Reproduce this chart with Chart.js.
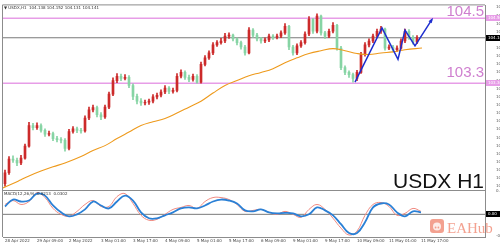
<!DOCTYPE html>
<html><head><meta charset="utf-8">
<script src="https://cdn.jsdelivr.net/npm/chart.js@4/dist/chart.umd.min.js"></script>
<style>html,body{margin:0;padding:0;background:#fff;overflow:hidden}canvas{display:block}</style>
</head><body>
<canvas id="c" width="500" height="244"></canvas>
<script>
// ---------- data ----------
const firstOpen = 101.45;
const closes = [101.65,101.90,101.88,101.83,101.92,102.14,102.52,102.48,102.52,102.43,
102.36,102.37,102.28,102.26,102.25,102.10,102.41,102.46,102.43,102.42,
102.66,102.81,102.85,102.72,102.68,102.86,103.10,103.35,103.43,103.39,
103.41,103.26,103.06,102.97,102.94,102.95,102.97,103.05,103.08,103.14,
103.21,103.15,103.17,103.43,103.50,103.41,103.37,103.43,103.32,103.65,
103.77,103.86,104.01,104.05,104.08,104.17,104.19,104.12,104.05,103.97,
103.86,104.28,104.19,104.12,104.08,104.10,104.17,104.15,104.17,104.23,
104.35,103.97,103.86,103.99,104.05,104.21,104.48,104.26,104.54,104.23,
104.17,104.26,104.37,103.95,103.59,103.50,103.46,103.39,103.50,103.83,
104.01,104.08,104.17,104.26,104.30,103.95,103.97,103.92,103.95,104.08,
104.26,104.15,104.06,104.14];
const highs = [101.70,101.95,101.96,101.92,101.97,102.18,102.58,102.56,102.57,102.55,
102.46,102.42,102.40,102.32,102.30,102.28,102.45,102.50,102.49,102.47,
102.70,102.86,102.90,102.88,102.76,102.90,103.14,103.40,103.48,103.47,
103.46,103.44,103.29,103.10,103.02,102.99,103.01,103.09,103.12,103.18,
103.26,103.24,103.21,103.48,103.55,103.53,103.45,103.47,103.46,103.69,
103.81,103.90,104.05,104.09,104.13,104.22,104.23,104.21,104.14,104.08,
104.00,104.33,104.31,104.22,104.15,104.14,104.21,104.20,104.21,104.27,
104.40,104.37,104.00,104.03,104.09,104.25,104.53,104.50,104.58,104.56,
104.26,104.30,104.42,104.39,103.98,103.62,103.53,103.49,103.54,103.87,
104.05,104.12,104.21,104.30,104.35,104.32,104.01,104.00,103.99,104.12,
104.30,104.29,104.18,104.18];
const lows = [101.40,101.62,101.84,101.78,101.80,101.90,102.12,102.44,102.45,102.40,
102.32,102.33,102.24,102.22,102.20,102.05,102.07,102.38,102.39,102.38,
102.40,102.63,102.77,102.68,102.63,102.65,102.83,103.07,103.31,103.35,
103.36,103.22,103.00,102.92,102.89,102.90,102.91,102.94,103.01,103.05,
103.11,103.11,103.12,103.14,103.40,103.37,103.33,103.34,103.30,103.30,
103.62,103.74,103.83,103.98,104.02,104.05,104.13,104.08,104.01,103.93,
103.82,103.84,104.15,104.08,104.04,104.05,104.07,104.11,104.12,104.14,
104.20,103.92,103.82,103.83,103.96,104.02,104.18,104.22,104.23,104.19,
104.13,104.14,104.23,103.91,103.55,103.46,103.41,103.32,103.35,103.48,
103.80,103.97,104.05,104.14,104.22,103.91,103.92,103.88,103.89,103.93,
104.05,104.11,104.02,104.03];
const maIdx = [-0.5,2,4,6,9,12,15,19,22,25,28,31,34,37,40,43,46,49,52,55,58,61,64,67,70,73,76,79,82,85,88,91,94,97,100,104.25];
const maVals = [101.37,101.45,101.52,101.59,101.68,101.76,101.83,101.95,102.06,102.15,
102.28,102.40,102.52,102.59,102.65,102.75,102.86,102.97,103.12,103.26,
103.35,103.44,103.50,103.57,103.68,103.77,103.85,103.90,103.94,103.90,
103.85,103.83,103.86,103.88,103.92,103.95];
const zigIdx = [87.5, 94.25, 98.25, 100, 102.5, 106.75];
const zigVals = [103.32, 104.32, 103.74, 104.28, 103.99, 104.48];
const resistance = 104.5, support = 103.3, lastPrice = 104.14;
const oscBlue = [0.08,0.15,0.13,0.14,0.21,0.19,0.09,0.02,-0.02,0.00,
0.05,0.13,0.09,0.06,0.13,0.19,0.14,0.02,-0.04,-0.04,
-0.01,0.02,0.06,0.07,0.06,0.09,0.13,0.15,0.14,0.11,
0.04,0.03,0.05,0.02,0.01,0.015,0.01,-0.02,0.00,0.07,
0.04,-0.01,-0.10,-0.19,-0.19,-0.08,0.07,0.11,0.10,0.02,
-0.02,0.03,0.02];
const oscRed = [0.10,0.14,0.10,0.13,0.22,0.17,0.06,0.00,-0.02,0.03,
0.10,0.14,0.08,0.08,0.18,0.21,0.11,-0.01,-0.06,-0.05,
0.00,0.05,0.07,0.09,0.06,0.13,0.17,0.17,0.15,0.10,
0.03,0.04,0.05,0.02,0.00,0.03,0.00,-0.03,0.05,0.10,
0.05,-0.04,-0.14,-0.21,-0.17,-0.01,0.10,0.12,0.08,-0.01,
0.01,0.06,0.03];
const oscIdx = oscBlue.map((v, k) => 2 * k);
const priceTicks = [104.70,104.55,104.40,104.25,104.10,103.95,103.80,103.65,103.50,103.35,103.20,103.05,102.90,102.75,102.60,102.45,102.30,102.15,102.00,101.85,101.70,101.55,101.40];
const oscTicks = [0.24, 0, -0.22];
const dateTicks = [0,8,16,24,32,40,48,56,64,72,80,88,96,104];
const dateLabels = ["28 Apr 2022","29 Apr 09:00","2 May 2022","3 May 01:00","3 May 17:00","4 May 09:00","5 May 01:00","5 May 17:00","6 May 09:00","9 May 01:00","9 May 17:00","10 May 09:00","11 May 01:00","11 May 17:00"];
const titleText = "USDX,H1  104.138 104.152 104.131 104.141";
const oscText = "MACD(12,26,9)  0.0213  0.0302";

// ---------- build ----------
const opens = closes.map((c, i) => i === 0 ? firstOpen : closes[i - 1]);
const upCol = '#cc2a2a', dnCol = '#86d4a4';
const candleCols = closes.map((c, i) => c >= opens[i] ? upCol : dnCol);
const X_MIN = -0.5, X_MAX = 120;
const pinkLine = '#e79de7', pinkText = '#cf7fcf';
const F = '"Liberation Sans", Arial, sans-serif';

const flat = (v) => [{x: X_MIN, y: v}, {x: X_MAX, y: v}];

const decor = {
  id: 'decor',
  afterDraw(chart) {
    const {ctx, chartArea: ca, scales} = chart;
    const y = scales.y, y2 = scales.y2, x = scales.x;
    ctx.save();
    // frame
    ctx.strokeStyle = '#8c8c8c'; ctx.lineWidth = 1;
    ctx.beginPath();
    ctx.moveTo(ca.left - 0.5, ca.bottom); ctx.lineTo(ca.left - 0.5, ca.top - 0.5); ctx.lineTo(ca.right, ca.top - 0.5);
    const sep = Math.round(y.bottom) + 0.5;
    ctx.moveTo(ca.left, sep); ctx.lineTo(ca.right, sep);
    ctx.stroke();
    // big texts
    ctx.textAlign = 'right'; ctx.textBaseline = 'alphabetic';
    ctx.fillStyle = pinkText; ctx.font = '15px ' + F;
    ctx.fillText('104.5', ca.right - 1, y.getPixelForValue(resistance) - 2);
    ctx.fillText('103.3', ca.right - 1, y.getPixelForValue(support) - 6);
    ctx.fillStyle = '#111'; ctx.font = '21px ' + F;
    ctx.fillText('USDX H1', ca.right - 1, y.bottom - 2);
    // small captions
    ctx.textAlign = 'left'; ctx.textBaseline = 'top';
    ctx.fillStyle = '#333'; ctx.font = '4px "DejaVu Sans"';
    ctx.fillText('▼ ' + titleText, ca.left + 1, ca.top + 1);
    ctx.fillText(oscText, ca.left + 1, y2.top + 2);
    // date labels along the bottom
    ctx.fillStyle = '#444'; ctx.font = '4px "DejaVu Sans"'; ctx.textBaseline = 'top';
    dateTicks.forEach((v, k) => {
      const px = x.getPixelForValue(v);
      ctx.fillText(dateLabels[k], px, ca.bottom + 2);
    });
    // axis tags
    function tag(scale, v, bg, fg, txt) {
      const py = Math.round(scale.getPixelForValue(v));
      ctx.fillStyle = bg; ctx.fillRect(ca.right + 1, py - 3, 15, 6);
      ctx.fillStyle = fg; ctx.font = '4px "DejaVu Sans"'; ctx.textBaseline = 'middle'; ctx.textAlign = 'left';
      ctx.fillText(txt, ca.right + 3, py);
    }
    tag(y, resistance, pinkLine, '#fff', resistance.toFixed(3));
    tag(y, support, pinkLine, '#fff', support.toFixed(3));
    tag(y, lastPrice, '#000', '#fff', lastPrice.toFixed(3));
    tag(y2, 0, '#000', '#fff', '0.00');
    // arrow head at the end of the projection
    const n = zigIdx.length;
    const ax = x.getPixelForValue(zigIdx[n - 1]), ay = y.getPixelForValue(zigVals[n - 1]);
    const bx = x.getPixelForValue(zigIdx[n - 2]), by = y.getPixelForValue(zigVals[n - 2]);
    const ang = Math.atan2(ay - by, ax - bx);
    ctx.fillStyle = '#1f2fcf';
    ctx.beginPath();
    ctx.moveTo(ax + 2 * Math.cos(ang), ay + 2 * Math.sin(ang));
    ctx.lineTo(ax - 4 * Math.cos(ang - 0.5), ay - 4 * Math.sin(ang - 0.5));
    ctx.lineTo(ax - 4 * Math.cos(ang + 0.5), ay - 4 * Math.sin(ang + 0.5));
    ctx.closePath(); ctx.fill();
    // watermark
    ctx.globalAlpha = 0.8;
    ctx.fillStyle = '#f08a74';
    ctx.beginPath();
    if (ctx.roundRect) ctx.roundRect(430, 219, 14, 14, 3); else ctx.rect(430, 219, 14, 14);
    ctx.fill();
    ctx.fillStyle = '#fff';
    ctx.beginPath(); ctx.arc(437, 226.5, 4, 0, Math.PI * 2); ctx.fill();
    ctx.fillStyle = '#f08a74';
    ctx.beginPath(); ctx.arc(435.6, 227.5, 0.9, 0, Math.PI * 2); ctx.arc(438.4, 227.5, 0.9, 0, Math.PI * 2); ctx.fill();
    ctx.font = '15px "Liberation Serif", serif'; ctx.textAlign = 'left'; ctx.textBaseline = 'alphabetic';
    ctx.fillText('EAHub', 447, 233);
    ctx.restore();
  }
};

new Chart(document.getElementById('c'), {
  type: 'line',
  data: {
    datasets: [
      {type: 'line', data: flat(resistance), borderColor: pinkLine, borderWidth: 1.5, pointRadius: 0, yAxisID: 'y', order: 20},
      {type: 'line', data: flat(support), borderColor: pinkLine, borderWidth: 1.5, pointRadius: 0, yAxisID: 'y', order: 20},
      {type: 'line', data: flat(lastPrice), borderColor: '#7a7a7a', borderWidth: 1, pointRadius: 0, yAxisID: 'y', order: 20},
      {type: 'bar', data: closes.map((c, i) => ({x: i, y: [lows[i], highs[i]]})), backgroundColor: candleCols,
        barThickness: 1, grouped: false, yAxisID: 'y', order: 9},
      {type: 'bar', data: closes.map((c, i) => ({x: i, y: [opens[i], c]})), backgroundColor: candleCols,
        barThickness: 2, grouped: false, yAxisID: 'y', order: 8},
      {type: 'line', data: maIdx.map((v, i) => ({x: v, y: maVals[i]})), borderColor: '#ee9a1c', borderWidth: 1.1,
        pointRadius: 0, tension: 0.4, yAxisID: 'y', order: 6},
      {type: 'line', data: zigIdx.map((v, i) => ({x: v, y: zigVals[i]})), borderColor: '#1f2fcf', borderWidth: 1.5,
        pointRadius: 0, tension: 0, yAxisID: 'y', order: 1},
      {type: 'line', data: [{x: X_MIN, y: 0}, {x: X_MAX, y: 0}], borderColor: '#7a7a7a', borderWidth: 1, pointRadius: 0, yAxisID: 'y2', order: 20},
      {type: 'line', data: oscIdx.map((v, i) => ({x: v, y: oscRed[i]})), borderColor: '#f08a80', borderWidth: 1,
        pointRadius: 0, tension: 0.4, yAxisID: 'y2', order: 3},
      {type: 'line', data: oscIdx.map((v, i) => ({x: v, y: oscBlue[i]})), borderColor: '#2a80d6', borderWidth: 1.8,
        pointRadius: 0, tension: 0.4, yAxisID: 'y2', order: 2}
    ]
  },
  options: {
    responsive: false, animation: false, devicePixelRatio: 1, events: [],
    layout: {padding: {top: 2, left: 3, right: 0, bottom: 0}},
    plugins: {legend: {display: false}, tooltip: {enabled: false}},
    scales: {
      x: {
        type: 'linear', min: X_MIN, max: X_MAX, offset: false,
        grid: {display: false}, border: {display: true, color: '#8c8c8c'},
        afterBuildTicks: (s) => { s.ticks = dateTicks.map(v => ({value: v})); },
        afterFit: (s) => { s.height = 7; },
        ticks: {display: false}
      },
      y: {
        type: 'linear', position: 'right', stack: 'panels', stackWeight: 187,
        min: 101.337, max: 104.737,
        grid: {display: false}, border: {display: true, color: '#8c8c8c'},
        afterBuildTicks: (s) => { s.ticks = priceTicks.map(v => ({value: v})); },
        afterFit: (s) => { s.width = 15; },
        ticks: {autoSkip: false, padding: 3, color: '#555', font: {size: 4, family: 'DejaVu Sans'},
          callback: (v) => v.toFixed(3)}
      },
      y2: {
        type: 'linear', position: 'right', stack: 'panels', stackWeight: 48,
        min: -0.23, max: 0.25,
        grid: {display: false}, border: {display: true, color: '#8c8c8c'},
        afterBuildTicks: (s) => { s.ticks = oscTicks.map(v => ({value: v})); },
        afterFit: (s) => { s.width = 15; },
        ticks: {autoSkip: false, padding: 3, color: '#555', font: {size: 4, family: 'DejaVu Sans'},
          callback: (v) => v.toFixed(3)}
      }
    }
  },
  plugins: [decor]
});
</script>
</body></html>
